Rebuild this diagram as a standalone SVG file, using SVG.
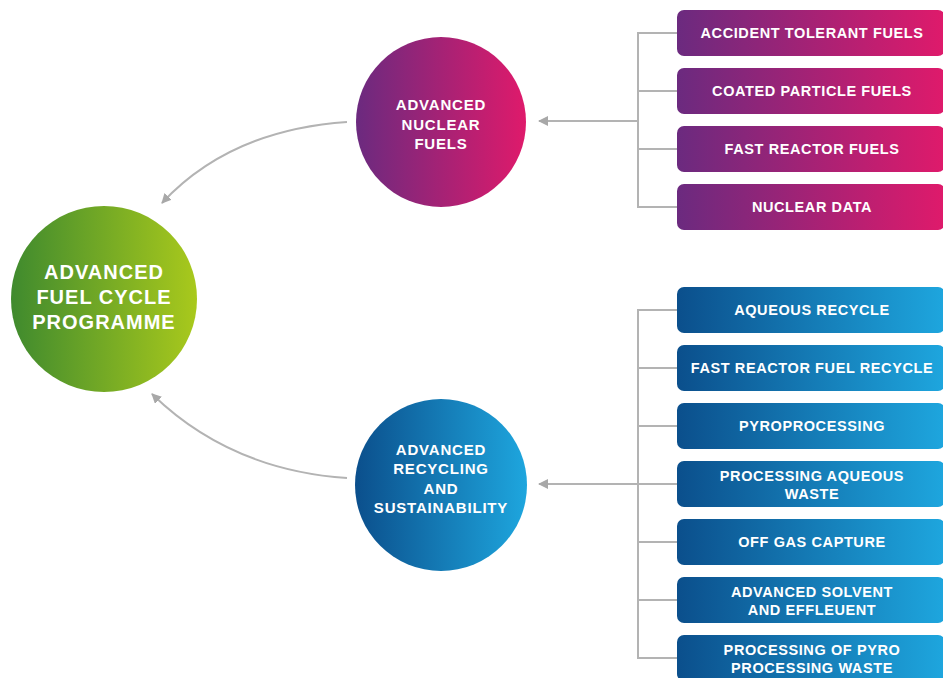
<svg xmlns="http://www.w3.org/2000/svg" width="943" height="678" viewBox="0 0 943 678">
<style>
.lbl{font-family:"Liberation Sans",Arial,sans-serif;font-weight:bold;fill:#ffffff;text-anchor:middle}
.box{font-size:14.5px;letter-spacing:0.6px}
.c1{font-size:20px;letter-spacing:1px}
.c2{font-size:15px;letter-spacing:0.8px}
.conn{fill:none;stroke:#b3b3b3;stroke-width:2}
</style>
<defs>
<linearGradient id="gGreen" x1="0" y1="0" x2="1" y2="0"><stop offset="0" stop-color="#3f8a2e"/><stop offset="1" stop-color="#a9c91c"/></linearGradient>
<linearGradient id="gPurple" x1="0" y1="0" x2="1" y2="0"><stop offset="0" stop-color="#6b2a7f"/><stop offset="1" stop-color="#df1a6b"/></linearGradient>
<linearGradient id="gBlue" x1="0" y1="0" x2="1" y2="0"><stop offset="0" stop-color="#0b4f8c"/><stop offset="1" stop-color="#1ea6de"/></linearGradient>
<marker id="arr" viewBox="0 0 10 10" refX="9" refY="5" markerWidth="5" markerHeight="5" orient="auto" markerUnits="strokeWidth">
<path d="M0,0 L10,5 L0,10 z" fill="#a8a8a8"/>
</marker>
</defs>

<g id="connectors">
<path class="conn" d="M347,122 Q230,130 162,203" marker-end="url(#arr)"/>
<path class="conn" d="M347,478 Q230,470 152,394" marker-end="url(#arr)"/>
<path class="conn" d="M638,121 L539,121" marker-end="url(#arr)"/>
<path class="conn" d="M638,484 L539,484" marker-end="url(#arr)"/>
<path class="conn" d="M677,33 H638 V207 H677 M638,91 H677 M638,149 H677"/>
<path class="conn" d="M677,310 H638 V658 H677 M638,368 H677 M638,426 H677 M638,484 H677 M638,542 H677 M638,600 H677"/>
</g>

<g id="node-afcp">
<circle cx="104" cy="299" r="93" fill="url(#gGreen)"/>
<text class="lbl c1" x="104" y="279">ADVANCED</text>
<text class="lbl c1" x="104" y="304">FUEL CYCLE</text>
<text class="lbl c1" x="104" y="329">PROGRAMME</text>
</g>

<g id="node-anf">
<circle cx="441" cy="122" r="85" fill="url(#gPurple)"/>
<text class="lbl c2" x="441" y="110">ADVANCED</text>
<text class="lbl c2" x="441" y="130">NUCLEAR</text>
<text class="lbl c2" x="441" y="149">FUELS</text>
</g>

<g id="node-ars">
<circle cx="441" cy="485" r="86" fill="url(#gBlue)"/>
<text class="lbl c2" x="441" y="455">ADVANCED</text>
<text class="lbl c2" x="441" y="474">RECYCLING</text>
<text class="lbl c2" x="441" y="494">AND</text>
<text class="lbl c2" x="441" y="513">SUSTAINABILITY</text>
</g>

<g id="box-atf"><rect x="677" y="10" width="268" height="46" rx="7" fill="url(#gPurple)"/><text class="lbl box" x="812" y="38">ACCIDENT TOLERANT FUELS</text></g>
<g id="box-cpf"><rect x="677" y="68" width="268" height="46" rx="7" fill="url(#gPurple)"/><text class="lbl box" x="812" y="96">COATED PARTICLE FUELS</text></g>
<g id="box-frf"><rect x="677" y="126" width="268" height="46" rx="7" fill="url(#gPurple)"/><text class="lbl box" x="812" y="154">FAST REACTOR FUELS</text></g>
<g id="box-nd"><rect x="677" y="184" width="268" height="46" rx="7" fill="url(#gPurple)"/><text class="lbl box" x="812" y="212">NUCLEAR DATA</text></g>

<g id="box-ar"><rect x="677" y="287" width="268" height="46" rx="7" fill="url(#gBlue)"/><text class="lbl box" x="812" y="315">AQUEOUS RECYCLE</text></g>
<g id="box-frfr"><rect x="677" y="345" width="268" height="46" rx="7" fill="url(#gBlue)"/><text class="lbl box" x="812" y="373">FAST REACTOR FUEL RECYCLE</text></g>
<g id="box-pyro"><rect x="677" y="403" width="268" height="46" rx="7" fill="url(#gBlue)"/><text class="lbl box" x="812" y="431">PYROPROCESSING</text></g>
<g id="box-paw"><rect x="677" y="461" width="268" height="46" rx="7" fill="url(#gBlue)"/><text class="lbl box" x="812" y="481">PROCESSING AQUEOUS</text><text class="lbl box" x="812" y="499">WASTE</text></g>
<g id="box-ogc"><rect x="677" y="519" width="268" height="46" rx="7" fill="url(#gBlue)"/><text class="lbl box" x="812" y="547">OFF GAS CAPTURE</text></g>
<g id="box-ase"><rect x="677" y="577" width="268" height="46" rx="7" fill="url(#gBlue)"/><text class="lbl box" x="812" y="597">ADVANCED SOLVENT</text><text class="lbl box" x="812" y="615">AND EFFLEUENT</text></g>
<g id="box-ppw"><rect x="677" y="635" width="268" height="46" rx="7" fill="url(#gBlue)"/><text class="lbl box" x="812" y="655">PROCESSING OF PYRO</text><text class="lbl box" x="812" y="673">PROCESSING WASTE</text></g>
</svg>
